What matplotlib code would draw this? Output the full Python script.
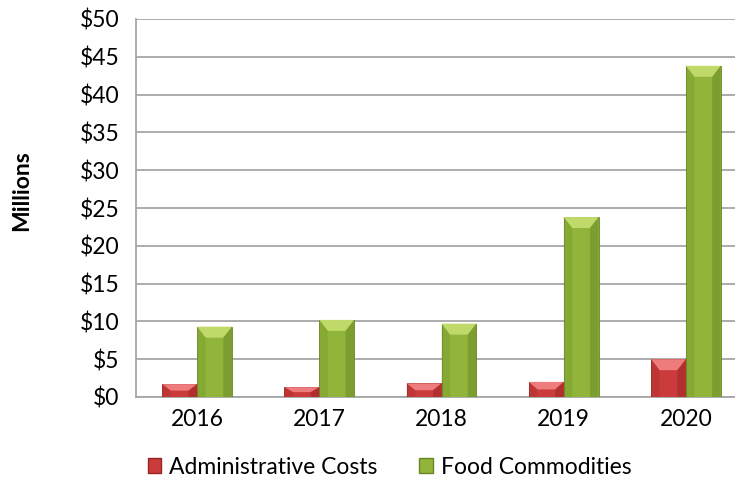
import numpy as np
import matplotlib.pyplot as plt
from matplotlib.patches import Polygon, Patch

years = ['2016', '2017', '2018', '2019', '2020']
admin_costs = [1.7, 1.3, 1.8, 2.0, 5.0]
food_commodities = [9.3, 10.2, 9.7, 23.8, 43.8]

RED = ('#cc3b3b', '#ee7c7c', '#972424')
GREEN = ('#90b53a', '#c0da6a', '#6a8726')


def bevel(ax, bars, colors, bx=0.07, by=1.45):
  base, light, dark = colors
  for b in bars:
    x0 = b.get_x()
    x1 = x0 + b.get_width()
    h = b.get_height()
    dy = min(by, h / 2)
    dx = min(bx, b.get_width() / 2)
    # top facet
    ax.add_patch(Polygon([(x0, h), (x1, h), (x1 - dx, h - dy), (x0 + dx, h - dy)],
                         closed=True, fc=light, ec='none', zorder=4))
    # side facets
    ax.add_patch(Polygon([(x1, 0), (x1, h), (x1 - dx, h - dy), (x1 - dx, 0)],
                         closed=True, fc=dark, ec='none', alpha=0.5, zorder=4))
    ax.add_patch(Polygon([(x0, 0), (x0, h), (x0 + dx, h - dy), (x0 + dx, 0)],
                         closed=True, fc=dark, ec='none', alpha=0.25, zorder=4))


plt.rcParams['font.family'] = ['Lato', 'DejaVu Sans']

fig = plt.figure(figsize=(7.35, 4.82), dpi=100)
ax = fig.add_axes([136 / 735, 1 - 397 / 482, 611 / 735, 378 / 482])

x = np.arange(len(years))
w = 0.285
bars_a = ax.bar(x - w / 2, admin_costs, w, color=RED[0], edgecolor=RED[2], linewidth=0.6, zorder=3)
bars_f = ax.bar(x + w / 2, food_commodities, w, color=GREEN[0], edgecolor=GREEN[2], linewidth=0.6, zorder=3)
bevel(ax, bars_a, RED)
bevel(ax, bars_f, GREEN)

ax.set_xlim(-0.5, len(years) - 0.5)
ax.set_ylim(0, 50)
ax.set_yticks(range(0, 51, 5))
ax.set_yticklabels(['$%d' % v for v in range(0, 51, 5)], fontsize=16.5)
ax.set_xticks(x)
ax.set_xticklabels(years, fontsize=16.5)
ax.tick_params(axis='y', length=0, pad=12)
ax.tick_params(axis='x', length=0, pad=9)

ax.grid(axis='y', color='#a6a6a6', linewidth=1.3, zorder=0)
ax.set_axisbelow(True)
for s in ['top', 'right']:
  ax.spines[s].set_visible(False)
for s in ['left', 'bottom']:
  ax.spines[s].set_color('#a6a6a6')
  ax.spines[s].set_linewidth(1.3)

ax.set_ylabel('Millions', fontsize=16.5, fontweight='bold')
ax.yaxis.set_label_coords(-0.17, 0.545)

handles = [Patch(fc=RED[0], ec=RED[2], label='Administrative Costs'),
           Patch(fc=GREEN[0], ec=GREEN[2], label='Food Commodities')]
fig.legend(handles=handles, loc='center', bbox_to_anchor=(0.53, 0.031), ncol=2,
           frameon=False, fontsize=16.5, handlelength=0.6, handleheight=0.6,
           handletextpad=0.35, columnspacing=1.8)

fig.savefig('out.png', dpi=100)
